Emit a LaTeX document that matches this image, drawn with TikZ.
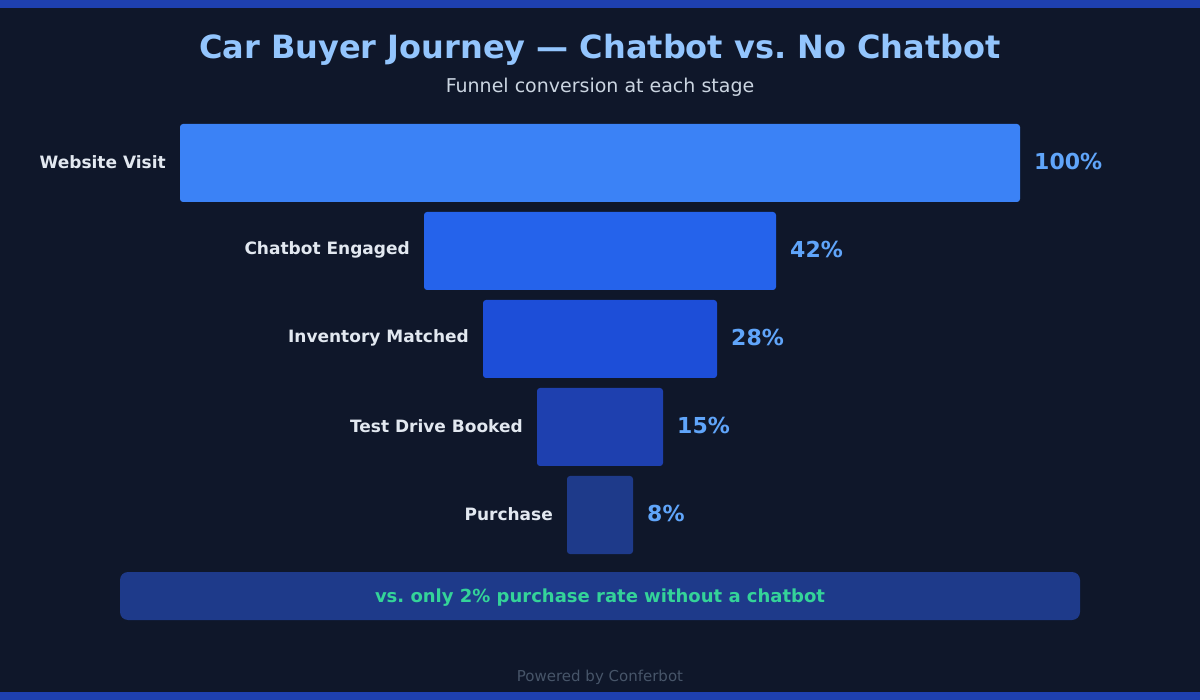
\documentclass[tikz,border=0pt]{standalone}
\usepackage{fontspec}
\setmainfont{DejaVu Sans}
\frenchspacing
\definecolor{bgdark}{HTML}{0F172A}
\definecolor{stripe}{HTML}{1E40AF}
\definecolor{barA}{HTML}{3B82F6}
\definecolor{barB}{HTML}{2563EB}
\definecolor{barC}{HTML}{1D4ED8}
\definecolor{barD}{HTML}{1E40AF}
\definecolor{barE}{HTML}{1E3A8A}
\definecolor{titleblue}{HTML}{93C5FD}
\definecolor{subgray}{HTML}{CBD5E1}
\definecolor{labelgray}{HTML}{E2E8F0}
\definecolor{pctblue}{HTML}{60A5FA}
\definecolor{notegreen}{HTML}{34D399}
\definecolor{footgray}{HTML}{475569}
\begin{document}
\begin{tikzpicture}[x=1pt,y=-1pt,
    stagebar/.style={rounded corners=3pt},
    stagelabel/.style={anchor=east,inner sep=0pt,text=labelgray,font=\bfseries\fontsize{17}{20}\selectfont},
    pctlabel/.style={anchor=west,inner sep=0pt,text=pctblue,font=\bfseries\fontsize{22}{26}\selectfont}]
        \fill[bgdark] (0,0) rectangle (1200,700);
        \useasboundingbox (0,0) rectangle (1200,700);
        \fill[stripe] (0,0) rectangle (1200,8);
        \fill[stripe] (0,692) rectangle (1200,700);

        \node[text=titleblue,font=\bfseries\fontsize{32}{38}\selectfont] (title) at (600,50) {Car Buyer Journey — Chatbot vs. No Chatbot};
        \node[text=subgray,font=\fontsize{19}{23}\selectfont] (subtitle) at (600,87) {Funnel conversion at each stage};

        % funnel stages
        \fill[barA,stagebar] (180,124) rectangle (1020,202);
        \node[stagelabel] (visit) at (166,162) {Website Visit};
        \node[pctlabel] (visitpct) at (1034,161.5) {100\%};

        \fill[barB,stagebar] (424,212) rectangle (776,290);
        \node[stagelabel] (engaged) at (410,250) {Chatbot Engaged};
        \node[pctlabel] (engagedpct) at (790,249.5) {42\%};

        \fill[barC,stagebar] (483,300) rectangle (717,378);
        \node[stagelabel] (matched) at (469,338) {Inventory Matched};
        \node[pctlabel] (matchedpct) at (731,337.5) {28\%};

        \fill[barD,stagebar] (537,388) rectangle (663,466);
        \node[stagelabel] (booked) at (523,426) {Test Drive Booked};
        \node[pctlabel] (bookedpct) at (677,425.5) {15\%};

        \fill[barE,stagebar] (567,476) rectangle (633,554);
        \node[stagelabel] (purchase) at (553,514) {Purchase};
        \node[pctlabel] (purchasepct) at (647,513.5) {8\%};

        % comparison note
        \fill[barE,rounded corners=8pt] (120,572) rectangle (1080,620);
        \node[text=notegreen,font=\bfseries\fontsize{18}{22}\selectfont] (note) at (600,598) {vs. only 2\% purchase rate without a chatbot};

        \node[text=footgray,font=\fontsize{15}{18}\selectfont] (footer) at (600,677) {Powered by Conferbot};
    \end{tikzpicture}
\end{document}
